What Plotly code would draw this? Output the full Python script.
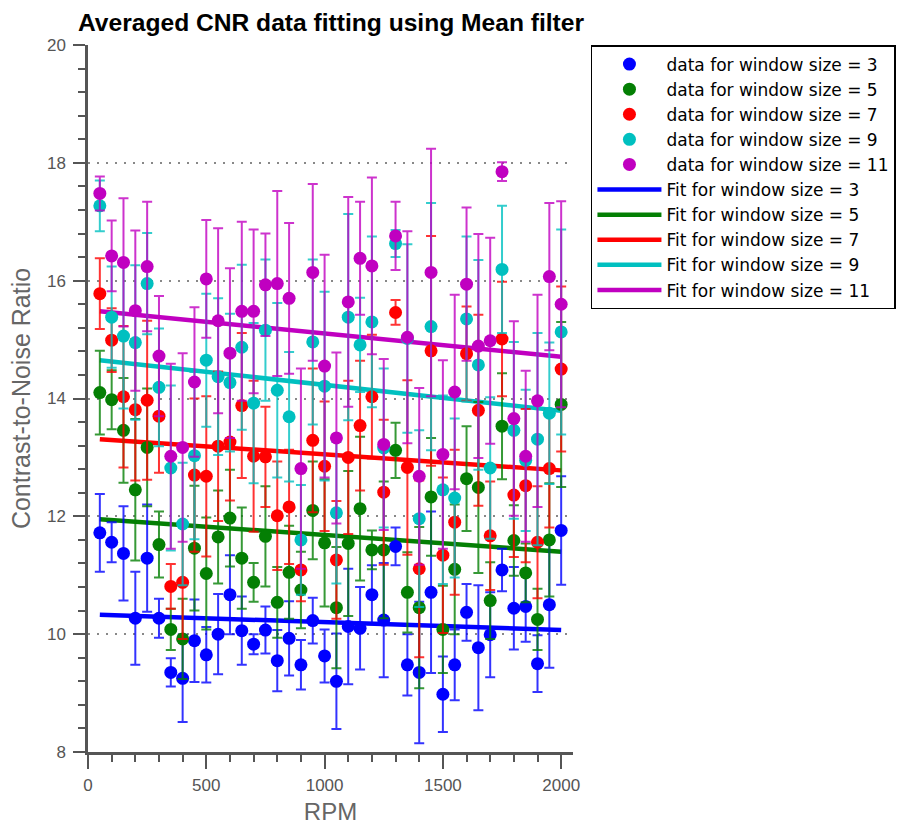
import plotly.graph_objects as go

# Rotation speed (RPM) of each measurement
rpm = [50, 100, 150, 200, 250, 300, 350, 400, 450, 500,
       550, 600, 650, 700, 750, 800, 850, 900, 950, 1000,
       1050, 1100, 1150, 1200, 1250, 1300, 1350, 1400, 1450, 1500,
       1550, 1600, 1650, 1700, 1750, 1800, 1850, 1900, 1950, 2000]

# Averaged CNR and its standard deviation for each mean-filter window size
cnr_w3 = [11.72, 11.56, 11.37, 10.27, 11.29, 10.27, 9.35, 9.25, 9.89, 9.65,
          10.00, 10.67, 10.06, 9.83, 10.07, 9.55, 9.93, 9.48, 10.23, 9.63,
          9.20, 10.13, 10.10, 10.67, 10.24, 11.49, 9.48, 9.35, 10.71, 8.98,
          9.48, 10.37, 9.77, 9.99, 11.09, 10.44, 10.47, 9.50, 10.50, 11.76]
err_w3 = [0.66, 0.34, 0.80, 0.79, 0.91, 0.33, 0.24, 0.74, 0.70, 0.47,
          0.68, 0.67, 0.58, 0.17, 0.40, 0.52, 0.63, 0.42, 0.39, 0.45,
          0.81, 0.98, 0.70, 0.50, 0.97, 0.32, 0.52, 1.20, 1.37, 0.64,
          0.60, 0.48, 1.06, 0.72, 0.36, 0.70, 0.60, 0.48, 1.07, 0.92]

cnr_w5 = [14.10, 13.98, 13.46, 12.45, 13.17, 11.52, 10.08, 9.92, 11.46, 11.03,
          11.65, 11.97, 11.29, 10.88, 11.66, 10.54, 11.05, 10.75, 12.10, 11.55,
          10.45, 11.54, 12.13, 11.43, 11.43, 13.12, 10.71, 10.45, 12.33, 10.08,
          11.10, 12.64, 12.49, 10.57, 13.53, 11.59, 11.04, 10.25, 11.60, 13.90]
err_w5 = [0.71, 0.50, 0.89, 1.20, 1.00, 0.56, 0.35, 0.68, 1.06, 0.95,
          0.79, 0.82, 0.86, 0.33, 0.85, 0.60, 0.79, 0.65, 0.83, 1.08,
          1.03, 1.23, 1.22, 0.33, 1.16, 0.47, 0.68, 1.37, 1.00, 0.74,
          1.10, 0.89, 1.45, 0.65, 0.90, 0.60, 0.50, 0.52, 0.96, 1.40]

cnr_w7 = [15.78, 14.99, 14.03, 13.81, 13.97, 13.70, 10.81, 10.88, 12.70, 12.68,
          13.19, 13.26, 13.88, 13.02, 13.01, 12.01, 12.16, 11.09, 13.29, 12.85,
          11.26, 13.00, 13.54, 14.03, 12.41, 15.46, 12.83, 11.11, 14.81, 11.34,
          11.90, 14.76, 13.80, 11.67, 15.01, 12.36, 12.52, 11.56, 12.81, 14.50]
err_w7 = [0.60, 0.54, 1.20, 1.20, 1.35, 0.96, 0.38, 0.96, 1.30, 1.36,
          1.27, 0.99, 1.23, 1.28, 0.85, 0.92, 0.97, 0.53, 1.22, 1.10,
          1.00, 1.30, 1.10, 1.05, 1.23, 0.21, 1.48, 1.50, 1.95, 1.32,
          1.23, 0.80, 1.62, 0.92, 0.97, 1.05, 1.30, 0.95, 1.00, 1.40]

cnr_w9 = [17.27, 15.38, 15.06, 14.95, 15.95, 14.19, 12.82, 11.87, 13.03, 14.65,
          14.37, 14.27, 14.87, 13.92, 15.16, 14.14, 13.69, 11.60, 14.96, 14.21,
          12.06, 15.38, 14.91, 15.30, 13.16, 16.63, 15.02, 11.96, 15.22, 12.45,
          12.31, 15.35, 14.57, 12.82, 16.19, 13.46, 12.95, 13.31, 13.75, 15.13]
err_w9 = [0.43, 0.86, 1.23, 1.31, 0.86, 1.00, 1.40, 1.04, 1.42, 1.13,
          1.33, 1.17, 1.40, 1.36, 1.20, 1.48, 1.10, 0.93, 1.40, 1.60,
          1.20, 1.75, 0.80, 1.45, 1.35, 0.23, 1.60, 1.50, 2.10, 1.60,
          1.35, 1.40, 1.78, 1.20, 1.08, 1.50, 1.20, 1.80, 1.20, 1.74]

cnr_w11 = [17.48, 16.42, 16.31, 15.49, 16.24, 14.72, 13.02, 13.17, 14.28, 16.03,
           15.32, 14.77, 15.48, 15.48, 15.93, 15.95, 15.70, 12.81, 16.14, 14.55,
           13.33, 15.64, 16.38, 16.25, 13.22, 16.76, 15.04, 12.68, 16.14, 13.05,
           14.11, 15.94, 14.89, 14.98, 17.85, 13.66, 13.02, 13.96, 16.07, 15.60]
err_w11 = [0.29, 0.60, 1.09, 1.36, 1.10, 1.02, 1.57, 1.60, 1.27, 1.00,
           1.57, 1.44, 1.52, 1.39, 0.87, 1.57, 1.28, 1.70, 1.50, 1.89,
           1.45, 1.78, 0.96, 1.50, 1.45, 0.58, 1.80, 1.50, 2.10, 1.60,
           1.65, 1.30, 1.90, 1.75, 0.16, 1.65, 1.45, 1.80, 1.25, 1.75]

# Linear fit end points (value at first and last RPM)
fit_rpm = [50, 2000]
fit_w3 = [10.33, 10.07]
fit_w5 = [11.95, 11.40]
fit_w7 = [13.31, 12.78]
fit_w9 = [14.65, 13.79]
fit_w11 = [15.48, 14.71]

window_sizes = [3, 5, 7, 9, 11]
colors = ["#0000ff", "#047f04", "#ff0000", "#00c0c0", "#c000c0"]
bar_colors = ["rgba(0,0,255,0.8)", "rgba(4,127,4,0.8)", "rgba(255,0,0,0.8)",
              "rgba(0,192,192,0.8)", "rgba(192,0,192,0.8)"]
cnr_sets = [cnr_w3, cnr_w5, cnr_w7, cnr_w9, cnr_w11]
err_sets = [err_w3, err_w5, err_w7, err_w9, err_w11]
fit_sets = [fit_w3, fit_w5, fit_w7, fit_w9, fit_w11]

fig = go.Figure()

# Fitted lines underneath the data points
for i, (w, c, f) in enumerate(zip(window_sizes, colors, fit_sets)):
    fig.add_trace(go.Scatter(
        x=fit_rpm, y=f, mode="lines",
        line=dict(color=c, width=4.5),
        name=f"Fit for window size = {w}",
        legendrank=100 + i,
    ))

# Averaged data with error bars
for i, (w, c, bc, y, e) in enumerate(zip(window_sizes, colors, bar_colors, cnr_sets, err_sets)):
    fig.add_trace(go.Scatter(
        x=rpm, y=y, mode="markers",
        marker=dict(color=c, size=13, line=dict(width=0)),
        error_y=dict(type="data", array=e, visible=True,
                     color=bc, thickness=2, width=5),
        name=f"data for window size = {w}",
        legendrank=10 + i,
    ))

axis_font = dict(family="Liberation Sans, Arial, sans-serif", size=17, color="#555555")

fig.update_layout(
    width=902, height=826,
    margin=dict(l=88, r=329, t=45, b=74, autoexpand=False),
    paper_bgcolor="white", plot_bgcolor="white",
    title=dict(
        text="<b>Averaged CNR data fitting using Mean filter</b>",
        font=dict(family="Liberation Sans, Arial, sans-serif", size=24.6, color="black"),
        x=78 / 902, xref="container", xanchor="left",
        y=1 - 22 / 826, yref="container", yanchor="middle",
    ),
    showlegend=True,
    legend=dict(
        x=1.037, y=1.0, xanchor="left", yanchor="top",
        bordercolor="black", borderwidth=1.5, bgcolor="white",
        font=dict(family="DejaVu Sans, Verdana, sans-serif", size=17, color="black"),
        itemwidth=64, tracegroupgap=0,
    ),
    xaxis=dict(
        range=[0, 2050],
        tickvals=[0, 500, 1000, 1500, 2000],
        ticks="outside", ticklen=14, tickwidth=2, tickcolor="#555555",
        minor=dict(dtick=100, ticks="outside", ticklen=7, tickwidth=2, tickcolor="#555555"),
        showline=True, linecolor="#555555", linewidth=2.5,
        showgrid=False, zeroline=False,
        tickfont=axis_font, ticklabelstandoff=2,
        title=dict(text="RPM", font=dict(family="Liberation Sans, Arial, sans-serif",
                                          size=24, color="#666666"), standoff=10),
    ),
    yaxis=dict(
        range=[8, 20],
        tickvals=[8, 10, 12, 14, 16, 18, 20],
        ticks="outside", ticklen=12, tickwidth=2, tickcolor="#555555",
        minor=dict(dtick=0.4, ticks="outside", ticklen=7, tickwidth=2, tickcolor="#555555",
                   showgrid=False),
        showline=True, linecolor="#555555", linewidth=2.5,
        showgrid=True, gridcolor="#888888", gridwidth=1.5, griddash="2px,7px",
        zeroline=False,
        tickfont=axis_font, ticklabelstandoff=4,
        title=dict(text="Contrast-to-Noise Ratio",
                   font=dict(family="Liberation Sans, Arial, sans-serif",
                             size=25, color="#666666"), standoff=10),
    ),
)

fig.write_html("out.html")
